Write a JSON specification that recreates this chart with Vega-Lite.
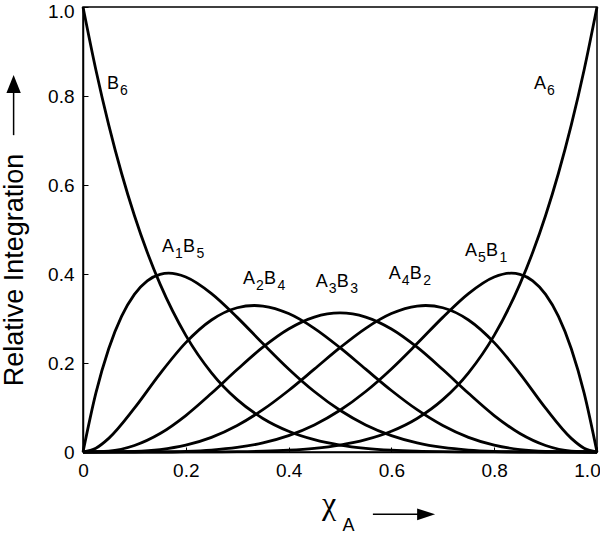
{
  "$schema": "https://vega.github.io/schema/vega-lite/v6.json",
  "width": 514,
  "height": 445,
  "autosize": "none",
  "padding": {"left": 83, "top": 7, "right": 3, "bottom": 82},
  "background": "white",
  "config": {
    "font": "Liberation Sans",
    "view": {"stroke": "black", "strokeWidth": 1.5},
    "axis": {
      "domainColor": "black", "domainWidth": 1.5,
      "tickColor": "black", "tickWidth": 1, "tickSize": -5,
      "labelColor": "black", "labelFontSize": 19, "labelFont": "Liberation Sans",
      "grid": false, "title": null
    }
  },
  "datasets": {
    "curves": [
      {"s":"B6","x":0,"y":1},{"s":"B6","x":0.025,"y":0.85907},{"s":"B6","x":0.05,"y":0.73509},{"s":"B6","x":0.075,"y":0.6264},{"s":"B6","x":0.1,"y":0.53144},{"s":"B6","x":0.125,"y":0.4488},{"s":"B6","x":0.15,"y":0.37715},{"s":"B6","x":0.2,"y":0.26214},{"s":"B6","x":0.25,"y":0.17798},{"s":"B6","x":0.3,"y":0.11765},{"s":"B6","x":0.35,"y":0.07542},{"s":"B6","x":0.4,"y":0.04666},{"s":"B6","x":0.45,"y":0.02768},{"s":"B6","x":0.5,"y":0.01563},{"s":"B6","x":0.55,"y":0.0083},{"s":"B6","x":0.6,"y":0.0041},{"s":"B6","x":0.65,"y":0.00184},{"s":"B6","x":0.7,"y":0.00073},{"s":"B6","x":0.75,"y":0.00024},{"s":"B6","x":0.8,"y":0.00006},{"s":"B6","x":0.85,"y":0.00001},{"s":"B6","x":0.9,"y":0},{"s":"B6","x":0.95,"y":0},{"s":"B6","x":1,"y":0},
      {"s":"A1B5","x":0,"y":0},{"s":"A1B5","x":0.025,"y":0.13216},{"s":"A1B5","x":0.05,"y":0.23213},{"s":"A1B5","x":0.075,"y":0.30473},{"s":"A1B5","x":0.1,"y":0.35429},{"s":"A1B5","x":0.125,"y":0.38468},{"s":"A1B5","x":0.15,"y":0.39934},{"s":"A1B5","x":0.1667,"y":0.40188},{"s":"A1B5","x":0.2,"y":0.39322},{"s":"A1B5","x":0.25,"y":0.35596},{"s":"A1B5","x":0.3,"y":0.30253},{"s":"A1B5","x":0.35,"y":0.24366},{"s":"A1B5","x":0.4,"y":0.18662},{"s":"A1B5","x":0.45,"y":0.13589},{"s":"A1B5","x":0.5,"y":0.09375},{"s":"A1B5","x":0.55,"y":0.06089},{"s":"A1B5","x":0.6,"y":0.03686},{"s":"A1B5","x":0.65,"y":0.02048},{"s":"A1B5","x":0.7,"y":0.01021},{"s":"A1B5","x":0.75,"y":0.00439},{"s":"A1B5","x":0.8,"y":0.00154},{"s":"A1B5","x":0.85,"y":0.00039},{"s":"A1B5","x":0.9,"y":0.00005},{"s":"A1B5","x":0.95,"y":0},{"s":"A1B5","x":1,"y":0},
      {"s":"A2B4","x":0,"y":0},{"s":"A2B4","x":0.025,"y":0.00847},{"s":"A2B4","x":0.05,"y":0.03054},{"s":"A2B4","x":0.1,"y":0.09842},{"s":"A2B4","x":0.15,"y":0.17618},{"s":"A2B4","x":0.2,"y":0.24576},{"s":"A2B4","x":0.25,"y":0.29663},{"s":"A2B4","x":0.3,"y":0.32414},{"s":"A2B4","x":0.3333,"y":0.32922},{"s":"A2B4","x":0.35,"y":0.32801},{"s":"A2B4","x":0.4,"y":0.31104},{"s":"A2B4","x":0.45,"y":0.27795},{"s":"A2B4","x":0.5,"y":0.23438},{"s":"A2B4","x":0.55,"y":0.18607},{"s":"A2B4","x":0.6,"y":0.13824},{"s":"A2B4","x":0.65,"y":0.0951},{"s":"A2B4","x":0.7,"y":0.05954},{"s":"A2B4","x":0.75,"y":0.03296},{"s":"A2B4","x":0.8,"y":0.01536},{"s":"A2B4","x":0.85,"y":0.00549},{"s":"A2B4","x":0.9,"y":0.00122},{"s":"A2B4","x":0.95,"y":0.00008},{"s":"A2B4","x":1,"y":0},
      {"s":"A3B3","x":0,"y":0},{"s":"A3B3","x":0.05,"y":0.00214},{"s":"A3B3","x":0.1,"y":0.01458},{"s":"A3B3","x":0.15,"y":0.04145},{"s":"A3B3","x":0.2,"y":0.08192},{"s":"A3B3","x":0.25,"y":0.13184},{"s":"A3B3","x":0.3,"y":0.18522},{"s":"A3B3","x":0.35,"y":0.23549},{"s":"A3B3","x":0.4,"y":0.27648},{"s":"A3B3","x":0.45,"y":0.30322},{"s":"A3B3","x":0.5,"y":0.3125},{"s":"A3B3","x":0.55,"y":0.30322},{"s":"A3B3","x":0.6,"y":0.27648},{"s":"A3B3","x":0.65,"y":0.23549},{"s":"A3B3","x":0.7,"y":0.18522},{"s":"A3B3","x":0.75,"y":0.13184},{"s":"A3B3","x":0.8,"y":0.08192},{"s":"A3B3","x":0.85,"y":0.04145},{"s":"A3B3","x":0.9,"y":0.01458},{"s":"A3B3","x":0.95,"y":0.00214},{"s":"A3B3","x":1,"y":0},
      {"s":"A4B2","x":0,"y":0},{"s":"A4B2","x":0.05,"y":0.00008},{"s":"A4B2","x":0.1,"y":0.00122},{"s":"A4B2","x":0.15,"y":0.00549},{"s":"A4B2","x":0.2,"y":0.01536},{"s":"A4B2","x":0.25,"y":0.03296},{"s":"A4B2","x":0.3,"y":0.05954},{"s":"A4B2","x":0.35,"y":0.0951},{"s":"A4B2","x":0.4,"y":0.13824},{"s":"A4B2","x":0.45,"y":0.18607},{"s":"A4B2","x":0.5,"y":0.23438},{"s":"A4B2","x":0.55,"y":0.27795},{"s":"A4B2","x":0.6,"y":0.31104},{"s":"A4B2","x":0.65,"y":0.32801},{"s":"A4B2","x":0.6667,"y":0.32922},{"s":"A4B2","x":0.7,"y":0.32414},{"s":"A4B2","x":0.75,"y":0.29663},{"s":"A4B2","x":0.8,"y":0.24576},{"s":"A4B2","x":0.85,"y":0.17618},{"s":"A4B2","x":0.9,"y":0.09842},{"s":"A4B2","x":0.95,"y":0.03054},{"s":"A4B2","x":0.975,"y":0.00847},{"s":"A4B2","x":1,"y":0},
      {"s":"A5B1","x":0,"y":0},{"s":"A5B1","x":0.05,"y":0},{"s":"A5B1","x":0.1,"y":0.00005},{"s":"A5B1","x":0.15,"y":0.00039},{"s":"A5B1","x":0.2,"y":0.00154},{"s":"A5B1","x":0.25,"y":0.00439},{"s":"A5B1","x":0.3,"y":0.01021},{"s":"A5B1","x":0.35,"y":0.02048},{"s":"A5B1","x":0.4,"y":0.03686},{"s":"A5B1","x":0.45,"y":0.06089},{"s":"A5B1","x":0.5,"y":0.09375},{"s":"A5B1","x":0.55,"y":0.13589},{"s":"A5B1","x":0.6,"y":0.18662},{"s":"A5B1","x":0.65,"y":0.24366},{"s":"A5B1","x":0.7,"y":0.30253},{"s":"A5B1","x":0.75,"y":0.35596},{"s":"A5B1","x":0.8,"y":0.39322},{"s":"A5B1","x":0.8333,"y":0.40188},{"s":"A5B1","x":0.85,"y":0.39934},{"s":"A5B1","x":0.875,"y":0.38468},{"s":"A5B1","x":0.9,"y":0.35429},{"s":"A5B1","x":0.925,"y":0.30473},{"s":"A5B1","x":0.95,"y":0.23213},{"s":"A5B1","x":0.975,"y":0.13216},{"s":"A5B1","x":1,"y":0},
      {"s":"A6","x":0,"y":0},{"s":"A6","x":0.05,"y":0},{"s":"A6","x":0.1,"y":0},{"s":"A6","x":0.15,"y":0.00001},{"s":"A6","x":0.2,"y":0.00006},{"s":"A6","x":0.25,"y":0.00024},{"s":"A6","x":0.3,"y":0.00073},{"s":"A6","x":0.35,"y":0.00184},{"s":"A6","x":0.4,"y":0.0041},{"s":"A6","x":0.45,"y":0.0083},{"s":"A6","x":0.5,"y":0.01563},{"s":"A6","x":0.55,"y":0.02768},{"s":"A6","x":0.6,"y":0.04666},{"s":"A6","x":0.65,"y":0.07542},{"s":"A6","x":0.7,"y":0.11765},{"s":"A6","x":0.75,"y":0.17798},{"s":"A6","x":0.8,"y":0.26214},{"s":"A6","x":0.85,"y":0.37715},{"s":"A6","x":0.875,"y":0.4488},{"s":"A6","x":0.9,"y":0.53144},{"s":"A6","x":0.925,"y":0.6264},{"s":"A6","x":0.95,"y":0.73509},{"s":"A6","x":0.975,"y":0.85907},{"s":"A6","x":1,"y":1}
    ],
    "labels": [
      {"x":0.0467,"y":0.8157,"l1":"B","s1":"6","l2":"","s2":""},
      {"x":0.1537,"y":0.4494,"l1":"A","s1":"1","l2":"B","s2":"5"},
      {"x":0.3113,"y":0.3775,"l1":"A","s1":"2","l2":"B","s2":"4"},
      {"x":0.453,"y":0.370,"l1":"A","s1":"3","l2":"B","s2":"3"},
      {"x":0.595,"y":0.389,"l1":"A","s1":"4","l2":"B","s2":"2"},
      {"x":0.743,"y":0.440,"l1":"A","s1":"5","l2":"B","s2":"1"},
      {"x":0.8774,"y":0.8157,"l1":"A","s1":"6","l2":"","s2":""}
    ]
  },
  "layer": [
    {
      "data": {"name": "curves"},
      "mark": {"type": "line", "color": "black", "strokeWidth": 2.8, "interpolate": "monotone"},
      "encoding": {
        "x": {"field": "x", "type": "quantitative", "scale": {"domain": [0, 1], "nice": false, "zero": false},
              "axis": {"title": null, "values": [0, 0.2, 0.4, 0.6, 0.8, 1], "labelExpr": "datum.value == 0 ? '0' : format(datum.value, '.1f')", "labelPadding": 14, "labelFlush": false,
                       "labelOffset": {"condition": {"test": "datum.value == 1", "value": -10}, "value": 0}}},
        "y": {"field": "y", "type": "quantitative", "scale": {"domain": [0, 1], "nice": false, "zero": false},
              "axis": {"title": null, "values": [0, 0.2, 0.4, 0.6, 0.8, 1], "labelExpr": "datum.value == 0 ? '0' : format(datum.value, '.1f')", "labelPadding": 14, "labelFlush": false,
                       "labelOffset": {"condition": {"test": "datum.value == 1", "value": 4}, "value": 0}}},
        "detail": {"field": "s"}
      }
    },
    {
      "data": {"name": "labels"},
      "mark": {"type": "text", "align": "left", "baseline": "alphabetic", "fontSize": 18, "color": "black"},
      "encoding": {
        "x": {"field": "x", "type": "quantitative"},
        "y": {"field": "y", "type": "quantitative"},
        "text": {"field": "l1"}
      }
    },
    {
      "data": {"name": "labels"},
      "mark": {"type": "text", "align": "left", "baseline": "alphabetic", "fontSize": 14, "dx": 13, "dy": 6, "color": "black"},
      "encoding": {
        "x": {"field": "x", "type": "quantitative"},
        "y": {"field": "y", "type": "quantitative"},
        "text": {"field": "s1"}
      }
    },
    {
      "data": {"name": "labels"},
      "mark": {"type": "text", "align": "left", "baseline": "alphabetic", "fontSize": 18, "dx": 21, "color": "black"},
      "encoding": {
        "x": {"field": "x", "type": "quantitative"},
        "y": {"field": "y", "type": "quantitative"},
        "text": {"field": "l2"}
      }
    },
    {
      "data": {"name": "labels"},
      "mark": {"type": "text", "align": "left", "baseline": "alphabetic", "fontSize": 14, "dx": 34.5, "dy": 6, "color": "black"},
      "encoding": {
        "x": {"field": "x", "type": "quantitative"},
        "y": {"field": "y", "type": "quantitative"},
        "text": {"field": "s2"}
      }
    },
    {
      "data": {"values": [{"x": 0.465, "y": -0.14, "t": "χ"}]},
      "mark": {"type": "text", "align": "left", "baseline": "alphabetic", "fontSize": 32, "color": "black", "font": "Liberation Serif"},
      "encoding": {
        "x": {"field": "x", "type": "quantitative"},
        "y": {"field": "y", "type": "quantitative"},
        "text": {"field": "t"}
      }
    },
    {
      "data": {"values": [{"x": 0.505, "y": -0.177, "t": "A"}]},
      "mark": {"type": "text", "align": "left", "baseline": "alphabetic", "fontSize": 18, "color": "black"},
      "encoding": {
        "x": {"field": "x", "type": "quantitative"},
        "y": {"field": "y", "type": "quantitative"},
        "text": {"field": "t"}
      }
    },
    {
      "data": {"values": [{"x": -0.132, "y": 0.409, "t": "Relative Integration"}]},
      "mark": {"type": "text", "align": "center", "baseline": "middle", "angle": 270, "fontSize": 27, "color": "black"},
      "encoding": {
        "x": {"field": "x", "type": "quantitative"},
        "y": {"field": "y", "type": "quantitative"},
        "text": {"field": "t"}
      }
    },
    {
      "data": {"values": [{"x": 0.564, "x2": 0.66, "y": -0.14}]},
      "mark": {"type": "rule", "color": "black", "strokeWidth": 1.5},
      "encoding": {
        "x": {"field": "x", "type": "quantitative"},
        "x2": {"field": "x2"},
        "y": {"field": "y", "type": "quantitative"}
      }
    },
    {
      "data": {"values": [{"x": -0.135, "y": 0.712, "y2": 0.81}]},
      "mark": {"type": "rule", "color": "black", "strokeWidth": 1.5},
      "encoding": {
        "x": {"field": "x", "type": "quantitative"},
        "y": {"field": "y", "type": "quantitative"},
        "y2": {"field": "y2"}
      }
    },
    {
      "data": {"values": [{"x": 0.6675, "y": -0.14}]},
      "mark": {"type": "point", "filled": true, "color": "black", "opacity": 1, "shape": "M-1,-0.65L1,0L-1,0.65Z", "size": 324},
      "encoding": {
        "x": {"field": "x", "type": "quantitative"},
        "y": {"field": "y", "type": "quantitative"}
      }
    },
    {
      "data": {"values": [{"x": -0.135, "y": 0.827}]},
      "mark": {"type": "point", "filled": true, "color": "black", "opacity": 1, "shape": "M-0.8,1L0,-1L0.8,1Z", "size": 324},
      "encoding": {
        "x": {"field": "x", "type": "quantitative"},
        "y": {"field": "y", "type": "quantitative"}
      }
    }
  ]
}
